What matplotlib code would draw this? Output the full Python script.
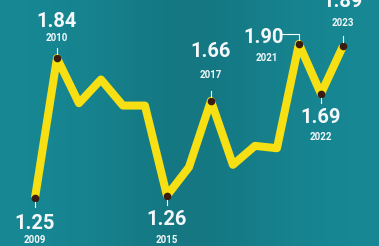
import matplotlib.pyplot as plt
import numpy as np

# veri
years = [2009, 2010, 2011, 2012, 2013, 2014, 2015, 2016, 2017, 2018, 2019, 2020, 2021, 2022, 2023]
values = [1.25, 1.84, 1.65, 1.75, 1.64, 1.64, 1.26, 1.38, 1.66, 1.39, 1.47, 1.46, 1.90, 1.69, 1.89]

# etiketli yillar
labeled = [2009, 2010, 2015, 2017, 2021, 2022, 2023]

yellow = '#f6df12'
fam = ['Roboto', 'DejaVu Sans']

fig = plt.figure(figsize=(3.79, 2.46), dpi=100)
ax = fig.add_axes([0, 0, 1, 1])
ax.set_xlim(2007.41, 2024.64)
ax.set_ylim(1.0475, 2.0854)
ax.axis('off')

# arka plan (ortasi biraz koyu)
grad = np.linspace(0, 1, 200)
shade = 1 - 0.12 * np.exp(-((grad - 0.5) / 0.25) ** 2)
base = np.array([0x17, 0x88, 0x94]) / 255
img = shade[None, :, None] * base[None, None, :]
ax.imshow(img, extent=[2007.41, 2024.64, 1.0475, 2.0854], aspect='auto', zorder=0)

ax.plot(years, values, color=yellow, lw=5.8, solid_joinstyle='round',
        solid_capstyle='butt', zorder=2)
lab_vals = [values[years.index(y)] for y in labeled]
ax.plot(labeled, lab_vals, 'o', color='#3a1c10', ms=4.5, zorder=3)

vfont = dict(color='#f4f8fa', fontsize=14.5, fontweight='bold', family=fam,
             ha='center', va='center', zorder=4)
yfont = dict(color='#f4f8fa', fontsize=7, fontweight='bold', family=fam,
             ha='center', va='center', zorder=4)

pu = 1 / 237  # bir pikselin deger karsiligi

def below(yr, dv, dyear):
    v = values[years.index(yr)]
    ax.plot([yr, yr], [v - 4 * pu, v - 9 * pu], color='white', lw=0.8, zorder=3)
    ax.text(yr, v - dv * pu, f'{v:.2f}', **vfont)
    ax.text(yr, v - dyear * pu, str(yr), **yfont)

def above(yr, dv, dyear):
    v = values[years.index(yr)]
    ax.plot([yr, yr], [v + 4 * pu, v + 10 * pu], color='white', lw=0.8, zorder=3)
    ax.text(yr, v + dv * pu, f'{v:.2f}', **vfont)
    ax.text(yr, v + dyear * pu, str(yr), **yfont)

below(2009, 25, 42)
below(2015, 24, 44)
below(2022, 24, 43)
above(2010, 37, 20)
above(2017, 49, 26)
above(2023, 45, 23)

# 2021: dirsekli baglanti
v21 = values[years.index(2021)]
ax.plot([2021 - 0.75, 2021, 2021], [v21 + 10 * pu, v21 + 10 * pu, v21 + 4 * pu],
        color='white', lw=0.8, zorder=3)
ax.text(2021 - 1.6, v21 + 6 * pu, '1.90', **vfont)
ax.text(2021 - 1.45, v21 - 14 * pu, '2021', **yfont)

fig.savefig('out.png', dpi=100)
